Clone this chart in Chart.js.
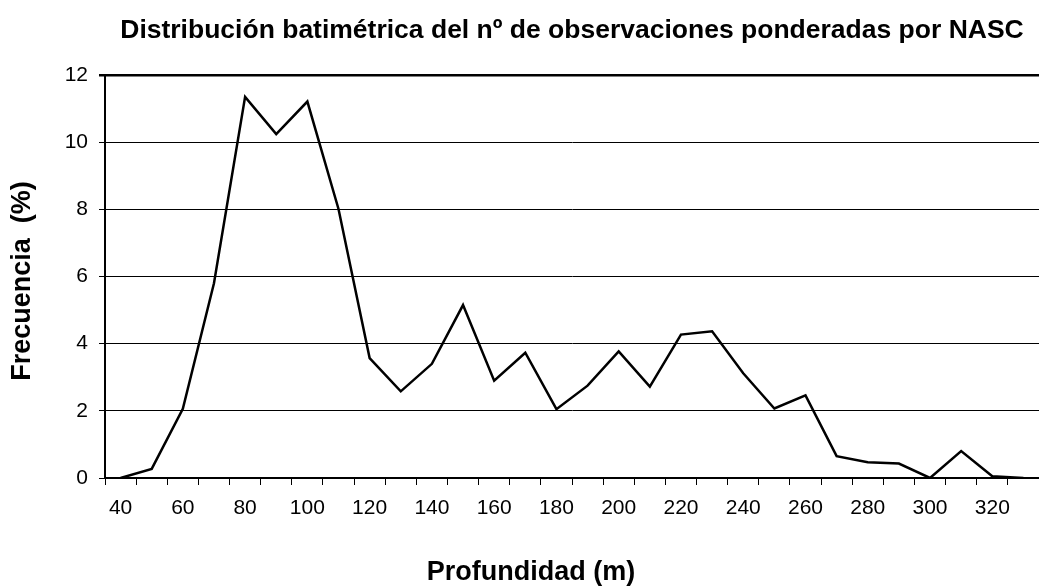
<!DOCTYPE html>
<html>
<head>
<meta charset="utf-8">
<script src="https://cdn.jsdelivr.net/npm/chart.js@4/dist/chart.umd.min.js"></script>
<style>
    html, body { margin: 0; padding: 0; background: #fff; }
    #wrap { width: 1039px; height: 588px; position: relative; }
</style>
</head>
<body>
<div id="wrap"><canvas id="batimetria"></canvas></div>
<script>
    // Profundidad (m) y frecuencia (%) ponderada por NASC
    var profundidades = ['40', '50', '60', '70', '80', '90', '100', '110', '120', '130',
                         '140', '150', '160', '170', '180', '190', '200', '210', '220', '230',
                         '240', '250', '260', '270', '280', '290', '300', '310', '320', '330'];
    var frecuencia = [0, 0.27, 2.06, 5.8, 11.35, 10.24, 11.21, 8.01, 3.57, 2.58,
                      3.40, 5.15, 2.90, 3.73, 2.05, 2.75, 3.77, 2.72, 4.27, 4.37,
                      3.12, 2.07, 2.46, 0.65, 0.47, 0.43, 0, 0.80, 0.05, 0];

    var titulo   = 'Distribución batimétrica del nº de observaciones ponderadas por NASC';
    var tituloX  = 'Profundidad (m)';
    var tituloY  = 'Frecuencia  (%)';
    var yMin = 0, yMax = 12, yPaso = 2;

    var fuente = '"Liberation Sans", Arial, sans-serif';

    // Títulos dibujados a mano para colocarlos como en Excel
    var textos = {
        id: 'textos',
        afterDraw: function (chart) {
            var ctx = chart.ctx;
            ctx.save();
            ctx.fillStyle = '#000';
            ctx.textAlign = 'center';
            ctx.textBaseline = 'middle';

            ctx.font = 'bold 26.5px ' + fuente;
            ctx.fillText(titulo, 572, 31);

            ctx.font = 'bold 27px ' + fuente;
            ctx.fillText(tituloX, 531, 573);

            ctx.translate(23, 281);
            ctx.rotate(-Math.PI / 2);
            ctx.fillText(tituloY, 0, 0);
            ctx.restore();
        }
    };

    new Chart(document.getElementById('batimetria').getContext('2d'), {
        type: 'line',
        data: {
            labels: profundidades,
            datasets: [{
                data: frecuencia,
                borderColor: '#000',
                borderWidth: 2.5,
                pointRadius: 0,
                tension: 0,
                fill: false
            }]
        },
        options: {
            responsive: true,
            maintainAspectRatio: false,
            animation: false,
            layout: { padding: { top: 75, left: 0, right: 0, bottom: 0 } },
            plugins: {
                legend: { display: false },
                tooltip: { enabled: false }
            },
            scales: {
                x: {
                    type: 'category',
                    offset: true,
                    afterFit: function (s) { s.height = 110; },
                    grid: {
                        offset: true,
                        drawOnChartArea: false,
                        drawTicks: true,
                        tickLength: 7,
                        color: '#000',
                        lineWidth: 1
                    },
                    border: { display: true, color: '#000', width: 2 },
                    ticks: {
                        autoSkip: false,
                        maxRotation: 0,
                        padding: 11,
                        color: '#000',
                        font: { family: fuente, size: 21 },
                        callback: function (v, i) { return i % 2 === 0 ? this.getLabelForValue(v) : ''; }
                    }
                },
                y: {
                    min: yMin,
                    max: yMax,
                    afterFit: function (s) { s.width = 105; },
                    grid: {
                        drawTicks: true,
                        tickLength: 6,
                        color: '#000',
                        lineWidth: function (c) { return c.tick && c.tick.value === yMax ? 2.5 : 1; }
                    },
                    border: { display: true, color: '#000', width: 2 },
                    ticks: {
                        stepSize: yPaso,
                        padding: 11,
                        color: '#000',
                        font: { family: fuente, size: 21 }
                    }
                }
            }
        },
        plugins: [textos]
    });
</script>
</body>
</html>
